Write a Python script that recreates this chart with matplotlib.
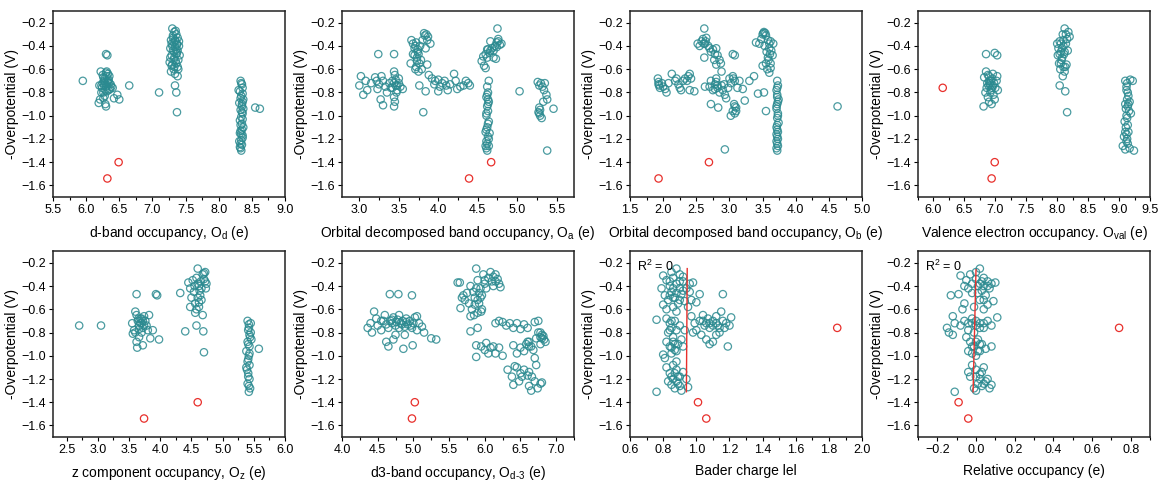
import numpy as np
import matplotlib
matplotlib.use("Agg")
import matplotlib.pyplot as plt
from matplotlib.ticker import AutoMinorLocator, MultipleLocator

plt.rcParams['font.family'] = ['Liberation Sans', 'DejaVu Sans']
plt.rcParams['mathtext.fontset'] = 'custom'
plt.rcParams['mathtext.rm'] = 'Liberation Sans'
plt.rcParams['mathtext.it'] = 'Liberation Sans'

######## data: (x, -overpotential) pairs per panel
od_pts = [(6.22,-0.62),(6.25,-0.65),(6.28,-0.68),(6.30,-0.63),(6.33,-0.70),(6.35,-0.72),(6.27,-0.74),(6.31,-0.66),
          (6.24,-0.76),(6.29,-0.78),(6.34,-0.69),(6.37,-0.73),(6.26,-0.80),(6.32,-0.71),(6.30,-0.75),(6.21,-0.86),
          (6.36,-0.77),(6.28,-0.83),(6.33,-0.64),(6.25,-0.72),(6.31,-0.79),(6.29,-0.90),(6.38,-0.75),(6.23,-0.74),
          (6.30,-0.92),(6.27,-0.70),(6.30,-0.47),(6.32,-0.48),(5.95,-0.70),(6.65,-0.74),(6.47,-0.82),(6.50,-0.86),
          (6.42,-0.85),(6.19,-0.89),(6.40,-0.76),(6.20,-0.74),
          (6.26,-0.67),(6.32,-0.74),(6.35,-0.66),(6.28,-0.72),(6.23,-0.80),(6.34,-0.78),(6.31,-0.62),(6.26,-0.85),
          (7.30,-0.25),(7.33,-0.28),(7.36,-0.30),(7.38,-0.33),(7.28,-0.35),(7.32,-0.37),(7.35,-0.36),(7.40,-0.40),
          (7.27,-0.42),(7.31,-0.44),(7.34,-0.41),(7.37,-0.46),(7.29,-0.48),(7.33,-0.50),(7.36,-0.47),(7.39,-0.52),
          (7.26,-0.54),(7.30,-0.56),(7.35,-0.53),(7.38,-0.58),(7.32,-0.60),(7.41,-0.48),(7.28,-0.62),(7.34,-0.64),
          (7.37,-0.38),(7.31,-0.31),(7.36,-0.43),(7.29,-0.57),(7.10,-0.80),(7.34,-0.74),(7.36,-0.80),(7.37,-0.97),
          (7.38,-0.66),
          (7.31,-0.33),(7.34,-0.35),(7.37,-0.39),(7.30,-0.40),(7.33,-0.45),(7.38,-0.44),(7.32,-0.52),(7.36,-0.55),
          (7.39,-0.60),(7.27,-0.50),(7.35,-0.27),(7.40,-0.36),(7.29,-0.38),(7.33,-0.58),
          (8.33,-0.70),(8.35,-0.73),(8.36,-0.76),(8.32,-0.79),(8.34,-0.83),(8.37,-0.86),(8.31,-0.89),(8.35,-0.92),
          (8.33,-0.95),(8.36,-0.98),(8.34,-1.01),(8.32,-1.04),(8.35,-1.07),(8.37,-1.10),(8.33,-1.13),(8.34,-1.16),
          (8.36,-1.19),(8.31,-1.22),(8.35,-1.25),(8.33,-1.28),(8.34,-1.30),(8.36,-0.88),(8.32,-1.15),(8.35,-0.97),
          (8.33,-1.24),(8.30,-0.78),(8.55,-0.93),(8.62,-0.94),
          (8.34,-0.72),(8.36,-0.81),(8.33,-0.85),(8.35,-0.90),(8.36,-1.03),(8.33,-1.08),(8.35,-1.12),(8.36,-1.17),
          (8.34,-1.21),(8.32,-1.27),(8.37,-0.94)]
od_red = [(6.32,-1.54),(6.49,-1.40)]

oa_pts = [(3.00,-0.74),(3.02,-0.66),(3.05,-0.82),(3.08,-0.70),(3.20,-0.67),(3.22,-0.70),(3.25,-0.73),(3.23,-0.77),
          (3.28,-0.66),(3.30,-0.70),(3.27,-0.86),(3.30,-0.91),(3.33,-0.75),(3.35,-0.80),(3.38,-0.72),(3.40,-0.76),
          (3.42,-0.70),(3.44,-0.62),(3.45,-0.65),(3.46,-0.74),(3.48,-0.78),(3.44,-0.84),(3.45,-0.88),(3.44,-0.92),
          (3.50,-0.72),(3.52,-0.75),(3.47,-0.80),(3.55,-0.77),(3.50,-0.68),(3.24,-0.47),(3.44,-0.47),(3.15,-0.72),
          (3.10,-0.78),(3.44,-0.72),(3.46,-0.69),(3.48,-0.74),(3.42,-0.76),
          (3.66,-0.35),(3.68,-0.38),(3.70,-0.42),(3.72,-0.37),(3.74,-0.45),(3.73,-0.50),(3.76,-0.55),(3.72,-0.58),
          (3.75,-0.62),(3.70,-0.48),(3.78,-0.52),(3.80,-0.35),(3.82,-0.29),(3.85,-0.30),(3.87,-0.32),(3.84,-0.42),
          (3.86,-0.56),(3.90,-0.38),(3.79,-0.60),(3.65,-0.55),(3.68,-0.47),(3.77,-0.40),(3.81,-0.97),(3.76,-0.74),
          (3.84,-0.79),(3.71,-0.40),(3.74,-0.43),(3.73,-0.53),(3.75,-0.47),(3.71,-0.60),(3.83,-0.31),(3.86,-0.35),
          (3.88,-0.65),(3.92,-0.68),(3.96,-0.70),(4.00,-0.69),(4.02,-0.75),(4.05,-0.72),(4.08,-0.70),(4.10,-0.74),
          (4.12,-0.78),(4.00,-0.79),(4.20,-0.64),(4.22,-0.70),(4.24,-0.77),(4.28,-0.75),(4.32,-0.74),(4.35,-0.70),
          (4.38,-0.72),(4.40,-0.74),(3.95,-0.73),(4.15,-0.73),
          (4.55,-0.53),(4.57,-0.49),(4.60,-0.47),(4.58,-0.57),(4.60,-0.59),(4.62,-0.50),(4.63,-0.43),(4.65,-0.46),
          (4.68,-0.42),(4.70,-0.44),(4.72,-0.40),(4.74,-0.37),(4.75,-0.25),(4.76,-0.34),(4.78,-0.39),(4.70,-0.50),
          (4.73,-0.51),(4.66,-0.36),(4.80,-0.38),(4.62,-0.43),(4.66,-0.44),(4.74,-0.41),(4.76,-0.36),
          (4.64,-0.70),(4.62,-0.75),(4.63,-0.80),(4.61,-0.84),(4.64,-0.88),(4.62,-0.92),(4.63,-0.96),(4.61,-1.00),
          (4.64,-1.05),(4.62,-1.10),(4.60,-1.14),(4.63,-1.18),(4.61,-1.22),(4.64,-1.26),(4.62,-1.30),(4.60,-1.26),
          (4.65,-1.15),(4.63,-0.86),(4.62,-0.82),(4.63,-0.90),(4.61,-0.98),(4.63,-1.07),(4.61,-1.12),(4.64,-1.20),
          (4.62,-1.24),(4.61,-1.28),(5.03,-0.79),
          (5.26,-0.71),(5.28,-0.74),(5.30,-0.72),(5.32,-0.75),(5.34,-0.78),(5.37,-0.82),(5.38,-0.86),(5.33,-0.88),
          (5.28,-0.93),(5.27,-0.97),(5.29,-1.00),(5.31,-1.02),(5.35,-0.72),(5.46,-0.94),(5.38,-1.30),(5.29,-0.95),
          (5.28,-0.98)]
oa_red = [(4.39,-1.54),(4.67,-1.40)]

ob_pts = [(1.92,-0.68),(1.93,-0.71),(1.94,-0.74),(1.95,-0.76),(1.98,-0.72),(2.00,-0.75),(2.03,-0.77),(2.05,-0.80),
          (2.08,-0.72),(2.13,-0.64),(2.18,-0.70),(2.20,-0.68),(2.23,-0.73),(2.25,-0.76),(2.27,-0.78),(2.30,-0.70),
          (2.33,-0.68),(2.36,-0.70),(2.38,-0.66),(2.40,-0.64),(2.42,-0.68),(2.40,-0.78),(2.47,-0.79),(1.93,-0.73),
          (2.52,-0.38),(2.55,-0.40),(2.58,-0.36),(2.60,-0.34),(2.62,-0.25),(2.63,-0.38),(2.65,-0.33),(2.68,-0.40),
          (2.70,-0.42),(2.72,-0.45),(2.75,-0.43),(2.78,-0.47),(2.80,-0.42),(2.82,-0.48),(2.85,-0.52),(2.87,-0.55),
          (2.88,-0.62),(2.80,-0.56),(2.62,-0.50),(2.77,-0.52),(2.64,-0.36),(2.61,-0.38),
          (2.70,-0.75),(2.72,-0.70),(2.75,-0.78),(2.78,-0.73),(2.80,-0.68),(2.82,-0.76),(2.85,-0.80),(2.88,-0.74),
          (2.90,-0.78),(2.93,-0.82),(2.95,-0.85),(2.98,-0.76),(3.00,-0.68),(3.02,-0.72),(3.05,-0.66),(3.08,-0.70),
          (3.07,-0.90),(3.10,-0.93),(3.05,-0.96),(3.02,-1.00),(3.08,-0.98),(2.72,-0.90),(2.83,-0.93),(2.63,-0.75),
          (2.92,-0.73),(3.12,-0.76),(3.15,-0.70),(2.80,-0.71),(2.82,-0.74),(2.78,-0.77),(3.08,-0.92),(3.10,-0.96),
          (3.06,-0.68),
          (3.05,-0.47),(3.08,-0.48),(3.20,-0.77),(3.23,-0.87),(3.30,-0.70),(3.37,-0.66),(3.43,-0.81),(3.52,-0.80),
          (2.93,-1.29),(3.55,-0.96),
          (3.40,-0.37),(3.45,-0.38),(3.48,-0.34),(3.50,-0.30),(3.52,-0.28),(3.55,-0.31),(3.53,-0.40),(3.56,-0.45),
          (3.58,-0.50),(3.55,-0.55),(3.57,-0.60),(3.60,-0.63),(3.62,-0.36),(3.63,-0.44),(3.65,-0.48),(3.62,-0.55),
          (3.66,-0.38),(3.50,-0.57),(3.60,-0.42),(3.51,-0.29),(3.54,-0.29),(3.58,-0.35),(3.60,-0.38),(3.61,-0.47),
          (3.59,-0.52),(3.62,-0.59),
          (3.72,-0.70),(3.73,-0.74),(3.71,-0.78),(3.72,-0.82),(3.74,-0.86),(3.72,-0.90),(3.71,-0.94),(3.73,-0.98),
          (3.72,-1.02),(3.74,-1.06),(3.71,-1.10),(3.73,-1.14),(3.72,-1.18),(3.71,-1.22),(3.73,-1.26),(3.72,-1.30),
          (3.72,-0.76),(3.72,-0.84),(3.73,-0.88),(3.71,-0.92),(3.73,-1.00),(3.72,-1.08),(3.72,-1.12),(3.71,-1.16),
          (3.73,-1.20),(3.72,-1.24),(3.71,-1.28),(4.63,-0.92)]
ob_red = [(1.93,-1.54),(2.69,-1.40)]

oval_pts = [(6.82,-0.67),(6.85,-0.62),(6.88,-0.65),(6.90,-0.70),(6.92,-0.74),(6.86,-0.76),(6.84,-0.80),(6.88,-0.84),
            (6.95,-0.68),(6.98,-0.72),(7.00,-0.76),(7.02,-0.70),(7.03,-0.66),(6.93,-0.78),(6.97,-0.82),(6.90,-0.88),
            (6.94,-0.90),(6.81,-0.92),(7.04,-0.78),(6.87,-0.72),(6.96,-0.64),(6.99,-0.86),(6.85,-0.47),(6.99,-0.46),
            (7.03,-0.48),(6.91,-0.72),(6.93,-0.70),(6.95,-0.76),(6.89,-0.74),(6.92,-0.80),(6.96,-0.74),(6.90,-0.66),
            (8.00,-0.38),(8.02,-0.42),(8.04,-0.36),(8.06,-0.45),(8.08,-0.50),(8.10,-0.40),(8.12,-0.25),(8.14,-0.30),
            (8.16,-0.34),(8.18,-0.28),(8.20,-0.32),(8.03,-0.55),(8.05,-0.60),(8.09,-0.66),(8.12,-0.62),(8.15,-0.56),
            (8.07,-0.52),(8.11,-0.47),(8.17,-0.44),(8.01,-0.48),(8.13,-0.58),(8.04,-0.74),(8.13,-0.79),(8.16,-0.97),
            (8.06,-0.38),(8.08,-0.42),(8.10,-0.35),(8.12,-0.45),(8.06,-0.55),(8.10,-0.58),(8.14,-0.38),(8.09,-0.30),
            (8.04,-0.47),
            (9.10,-0.70),(9.13,-0.72),(9.18,-0.69),(9.22,-0.70),(9.12,-0.78),(9.15,-0.83),(9.17,-0.88),(9.10,-0.90),
            (9.14,-0.92),(9.16,-0.96),(9.12,-1.00),(9.09,-1.05),(9.11,-1.10),(9.15,-1.14),(9.08,-1.18),(9.12,-1.22),
            (9.06,-1.26),(9.10,-1.29),(9.17,-1.28),(9.24,-1.30),(9.13,-1.20),(9.19,-0.98),(9.13,-0.86),(9.15,-0.90),
            (9.11,-0.94),(9.13,-1.02),(9.14,-1.08),(9.10,-1.14),(9.12,-1.16),(9.14,-1.24),(9.12,-0.75),(9.14,-0.80)]
oval_red = [(6.15,-0.76),(6.94,-1.54),(6.99,-1.40)]

oz_pts = [(2.70,-0.74),(3.05,-0.74),
          (3.55,-0.72),(3.58,-0.78),(3.60,-0.62),(3.62,-0.65),(3.64,-0.70),(3.66,-0.74),(3.68,-0.68),(3.70,-0.72),
          (3.72,-0.76),(3.74,-0.66),(3.76,-0.70),(3.78,-0.74),(3.80,-0.78),(3.82,-0.65),(3.60,-0.80),(3.62,-0.88),
          (3.63,-0.93),(3.66,-0.84),(3.72,-0.91),(3.84,-0.85),(3.88,-0.78),(3.98,-0.86),(3.70,-0.80),(3.56,-0.81),
          (3.65,-0.68),(3.68,-0.72),(3.70,-0.68),(3.72,-0.70),(3.66,-0.77),(3.74,-0.74),
          (3.62,-0.47),(3.93,-0.47),(3.95,-0.48),(4.32,-0.46),(4.40,-0.79),(4.58,-0.74),(4.69,-0.79),(4.70,-0.97),
          (4.45,-0.37),(4.48,-0.42),(4.50,-0.50),(4.52,-0.35),(4.54,-0.45),(4.56,-0.55),(4.58,-0.60),(4.60,-0.25),
          (4.62,-0.40),(4.64,-0.48),(4.66,-0.52),(4.68,-0.30),(4.70,-0.34),(4.72,-0.28),(4.74,-0.38),(4.73,-0.42),
          (4.68,-0.65),(4.56,-0.63),(4.48,-0.58),(4.62,-0.58),(4.58,-0.33),(4.60,-0.38),(4.63,-0.44),(4.65,-0.36),
          (4.66,-0.42),(4.60,-0.50),(4.62,-0.54),(4.70,-0.29),(4.72,-0.36),(4.55,-0.40),
          (5.40,-0.70),(5.42,-0.73),(5.45,-0.72),(5.41,-0.78),(5.44,-0.84),(5.40,-0.88),(5.43,-0.92),(5.38,-0.96),
          (5.42,-1.00),(5.40,-1.05),(5.38,-1.10),(5.41,-1.15),(5.43,-1.20),(5.40,-1.24),(5.44,-1.28),(5.42,-1.31),
          (5.46,-0.86),(5.39,-1.12),(5.58,-0.94),(5.42,-0.76),(5.43,-0.82),(5.41,-0.90),(5.43,-0.98),(5.41,-1.03),
          (5.43,-1.08),(5.41,-1.18),(5.42,-1.26),(5.45,-0.80)]
oz_red = [(3.74,-1.54),(4.60,-1.40)]

od3_pts = [(4.36,-0.76),(4.40,-0.72),(4.42,-0.80),(4.45,-0.62),(4.48,-0.68),(4.50,-0.74),(4.55,-0.78),(4.58,-0.70),
           (4.60,-0.65),(4.62,-0.73),(4.65,-0.76),(4.68,-0.70),(4.70,-0.72),(4.72,-0.67),(4.75,-0.74),(4.78,-0.69),
           (4.80,-0.65),(4.82,-0.72),(4.85,-0.70),(4.88,-0.75),(4.90,-0.68),(4.92,-0.73),(4.95,-0.70),(4.98,-0.76),
           (5.00,-0.72),(5.02,-0.67),(5.05,-0.66),(5.08,-0.72),(5.12,-0.75),(5.15,-0.80),(5.05,-0.78),(4.62,-0.88),
           (4.65,-0.92),(4.72,-0.86),(4.75,-0.82),(4.86,-0.94),(4.88,-0.82),(4.99,-0.91),(5.25,-0.85),(5.32,-0.86),
           (4.67,-0.47),(4.79,-0.47),(4.98,-0.48),(4.70,-0.69),(4.76,-0.71),(4.84,-0.73),(4.90,-0.71),(4.96,-0.74),
           (4.80,-0.76),(4.55,-0.70),
           (5.62,-0.37),(5.65,-0.37),(5.68,-0.50),(5.70,-0.48),(5.72,-0.52),(5.75,-0.46),(5.78,-0.55),(5.80,-0.40),
           (5.82,-0.60),(5.84,-0.45),(5.86,-0.50),(5.88,-0.25),(5.90,-0.35),(5.92,-0.55),(5.94,-0.42),(5.96,-0.60),
           (5.98,-0.30),(6.00,-0.38),(6.02,-0.42),(6.05,-0.33),(6.08,-0.28),(6.10,-0.36),(6.12,-0.40),(6.15,-0.30),
           (6.18,-0.34),(6.20,-0.38),(6.22,-0.41),(5.85,-0.65),(5.90,-0.63),(5.95,-0.62),(5.66,-0.59),(5.80,-0.66),
           (5.88,-0.42),(5.92,-0.46),(5.94,-0.50),(5.90,-0.52),(5.86,-0.56),(5.96,-0.48),(6.00,-0.35),(6.15,-0.36),
           (6.12,-0.32),
           (5.80,-0.79),(5.88,-0.91),(5.88,-1.01),(5.90,-0.76),(5.95,-0.92),(6.00,-0.95),(6.02,-0.89),(6.05,-0.98),
           (6.08,-0.93),(6.12,-0.92),(6.15,-0.98),(6.20,-0.93),(6.25,-1.00),(6.15,-0.72),(6.20,-0.70),(6.25,-0.71),
           (6.30,-0.74),(6.35,-0.72),(6.40,-0.76),(6.45,-0.72),(6.50,-0.77),(6.55,-0.73),(6.60,-0.76),(6.70,-0.71),
           (6.75,-0.70),(6.40,-0.91),(6.45,-0.98),(6.50,-0.93),(6.55,-0.96),(6.58,-0.90),(6.62,-0.88),(6.65,-0.92),
           (6.68,-0.95),(6.72,-0.85),(6.75,-0.80),(6.78,-0.84),(6.80,-0.82),(6.83,-0.86),(6.85,-0.88),(6.78,-0.90),
           (6.70,-1.02),(6.72,-1.08),(6.32,-1.12),(6.38,-1.18),(6.42,-1.09),(6.40,-1.25),(6.48,-1.22),(6.50,-1.15),
           (6.55,-1.12),(6.60,-1.17),(6.62,-1.26),(6.65,-1.30),(6.70,-1.22),(6.74,-1.28),(6.78,-1.24),(6.80,-1.23),
           (6.80,-0.85),(6.82,-0.83),(6.78,-0.80),(6.45,-1.10),(6.52,-1.18),(6.62,-1.14),(6.66,-1.18),(6.60,-0.88),
           (6.62,-0.92)]
od3_red = [(4.98,-1.54),(5.02,-1.40)]

bader_pts = [(0.80,-0.31),(0.82,-0.35),(0.84,-0.40),(0.86,-0.33),(0.88,-0.25),(0.90,-0.30),(0.92,-0.36),(0.94,-0.42),
             (0.96,-0.38),(0.98,-0.37),(0.81,-0.48),(0.83,-0.52),(0.85,-0.45),(0.87,-0.50),(0.89,-0.55),(0.91,-0.47),
             (0.93,-0.53),(0.95,-0.58),(0.97,-0.52),(0.80,-0.56),(0.82,-0.60),(0.86,-0.58),(0.88,-0.62),(0.90,-0.42),
             (0.79,-0.42),(1.00,-0.54),(1.02,-0.47),(0.85,-0.28),(0.92,-0.32),(0.96,-0.45),
             (0.84,-0.36),(0.86,-0.42),(0.88,-0.38),(0.90,-0.36),(0.92,-0.44),(0.86,-0.50),(0.88,-0.46),(0.84,-0.48),
             (0.90,-0.52),
             (0.76,-0.69),(0.82,-0.68),(0.84,-0.72),(0.85,-0.76),(0.83,-0.80),(0.86,-0.84),(0.82,-0.88),(0.84,-0.92),
             (0.87,-0.95),(0.85,-0.98),(0.80,-0.99),(0.89,-0.90),(0.91,-0.86),(0.88,-0.78),(0.90,-0.74),(0.87,-0.70),
             (0.92,-0.92),(0.81,-1.02),(0.93,-0.78),(0.85,-0.70),(0.84,-0.78),(0.86,-0.88),(0.87,-0.90),(0.85,-0.93),
             (0.88,-0.96),
             (0.82,-1.10),(0.84,-1.15),(0.86,-1.20),(0.88,-1.12),(0.90,-1.18),(0.85,-1.25),(0.87,-1.28),(0.89,-1.24),
             (0.92,-1.14),(0.94,-1.20),(0.91,-1.30),(0.86,-1.08),(0.83,-1.22),(0.95,-1.27),(0.76,-1.31),(0.88,-1.05),
             (0.87,-1.15),(0.89,-1.18),(0.85,-1.18),(0.88,-1.22),(0.90,-1.26),
             (0.97,-0.66),(0.99,-0.72),(1.00,-0.78),(1.02,-0.70),(1.04,-0.65),(1.05,-0.74),(1.07,-0.68),(1.08,-0.76),
             (1.10,-0.70),(1.12,-0.66),(1.13,-0.74),(1.15,-0.62),(1.16,-0.70),(1.17,-0.76),(1.18,-0.72),(1.20,-0.74),
             (1.21,-0.67),(1.06,-0.86),(1.08,-0.90),(1.10,-0.88),(1.03,-0.82),(1.14,-0.80),(1.19,-0.92),(1.16,-0.47),
             (1.12,-0.82),(0.98,-0.80),(1.08,-0.72),(1.10,-0.74),(1.12,-0.72),(1.14,-0.76),(1.06,-0.72),(1.04,-0.70)]
bader_red = [(1.01,-1.40),(1.06,-1.54),(1.85,-0.76)]
bader_fit_x = [0.945, 0.940]
bader_fit_y = [-0.25, -1.31]

rel_pts = [(-0.08,-0.31),(-0.05,-0.35),(-0.03,-0.30),(0.00,-0.28),(0.02,-0.25),(0.04,-0.33),(0.06,-0.36),(0.08,-0.38),
           (0.10,-0.37),(-0.04,-0.42),(-0.02,-0.46),(0.01,-0.40),(0.03,-0.44),(0.05,-0.48),(0.07,-0.42),(0.09,-0.53),
           (-0.06,-0.55),(-0.01,-0.58),(0.02,-0.52),(0.04,-0.60),(0.06,-0.56),(-0.13,-0.48),(-0.09,-0.47),(-0.07,-0.60),
           (0.00,-0.34),(0.02,-0.38),(0.04,-0.40),(-0.02,-0.38),(0.03,-0.36),(0.01,-0.46),(0.04,-0.52),(0.06,-0.40),
           (-0.06,-0.40),
           (-0.15,-0.76),(-0.14,-0.80),(-0.12,-0.66),(-0.11,-0.72),(-0.08,-0.74),(-0.06,-0.70),(-0.04,-0.78),(-0.02,-0.68),
           (0.00,-0.74),(0.02,-0.72),(0.04,-0.76),(0.06,-0.70),(0.08,-0.74),(0.11,-0.67),(-0.05,-0.84),(-0.03,-0.88),
           (-0.01,-0.92),(0.01,-0.86),(0.03,-0.90),(0.05,-0.94),(-0.02,-0.98),(0.00,-1.00),(0.08,-0.92),(-0.04,-0.96),
           (-0.12,-0.82),(0.02,-0.96),(-0.02,-0.72),(0.00,-0.70),(0.02,-0.76),(-0.04,-0.72),(0.04,-0.72),(-0.01,-0.80),
           (0.00,-0.88),(0.02,-0.90),(-0.02,-0.92),(0.01,-0.96),
           (-0.02,-1.08),(0.00,-1.12),(0.02,-1.16),(0.04,-1.10),(0.06,-1.20),(0.01,-1.24),(-0.01,-1.28),(0.03,-1.26),
           (0.05,-1.22),(0.07,-1.28),(0.08,-1.25),(-0.03,-1.18),(0.00,-1.30),(-0.04,-1.14),(-0.11,-1.31),(0.00,-1.18),
           (0.02,-1.20),(0.04,-1.24),(0.03,-1.14)]
rel_red = [(-0.09,-1.40),(-0.04,-1.54),(0.74,-0.76)]
rel_fit_x = [0.000, -0.015]
rel_fit_y = [-0.26, -1.31]

xlabels = ["d-band occupancy, O$_\\mathrm{d}$ (e)",
           "Orbital decomposed band occupancy, O$_\\mathrm{a}$ (e)",
           "Orbital decomposed band occupancy, O$_\\mathrm{b}$ (e)",
           "Valence electron occupancy. O$_\\mathrm{val}$ (e)",
           "z component occupancy, O$_\\mathrm{z}$ (e)",
           "d3-band occupancy, O$_\\mathrm{d\\text{-}3}$ (e)",
           "Bader charge lel",
           "Relative occupancy (e)"]
xlims = [(5.5, 9.0), (2.78, 5.72), (1.5, 5.0), (5.75, 9.5), (2.28, 6.0), (4.0, 7.25), (0.6, 2.0), (-0.3, 0.9)]
xsteps = [0.5, 0.5, 0.5, 0.5, 0.5, 0.5, 0.2, 0.2]
panels = [(od_pts, od_red), (oa_pts, oa_red), (ob_pts, ob_red), (oval_pts, oval_red),
          (oz_pts, oz_red), (od3_pts, od3_red), (bader_pts, bader_red), (rel_pts, rel_red)]
fits = {6: (bader_fit_x, bader_fit_y), 7: (rel_fit_x, rel_fit_y)}

teal = '#2b8a90'
red = '#e8302c'

fig = plt.figure(figsize=(11.62, 4.83), dpi=100)
lefts = [0.0456, 0.2943, 0.5422, 0.790]
for i, (pts, rpts) in enumerate(panels):
    row, col = divmod(i, 4)
    bottom = 0.592 if row == 0 else 0.095
    ax = fig.add_axes([lefts[col], bottom, 0.1997, 0.385])
    p = np.array(pts).T
    r = np.array(rpts).T
    ax.scatter(p[0], p[1], s=28, facecolors='none', edgecolors=teal, linewidths=0.9, alpha=0.85)
    ax.scatter(r[0], r[1], s=28, facecolors='none', edgecolors=red, linewidths=0.9)
    if i in fits:
        ax.plot(fits[i][0], fits[i][1], color=red, lw=1.0)
        ax.text(0.03, 0.96, "R$^2$ = 0", transform=ax.transAxes, ha='left', va='top', fontsize=9)
    ax.set_xlim(*xlims[i])
    ax.set_ylim(-1.7, -0.1)
    ax.xaxis.set_major_locator(MultipleLocator(xsteps[i]))
    ax.xaxis.set_minor_locator(AutoMinorLocator(2))
    ax.yaxis.set_major_locator(MultipleLocator(0.2))
    ax.tick_params(direction='out', labelsize=9, length=3, width=0.8, pad=2)
    ax.tick_params(which='minor', direction='out', length=2, width=0.8)
    for s in ax.spines.values():
        s.set_linewidth(1.1)
        s.set_color('#222222')
    ax.set_xlabel(xlabels[i], fontsize=10, labelpad=6)
    ax.set_ylabel("-Overpotential (V)", fontsize=10, labelpad=2)

plt.savefig("out.png", dpi=100)
